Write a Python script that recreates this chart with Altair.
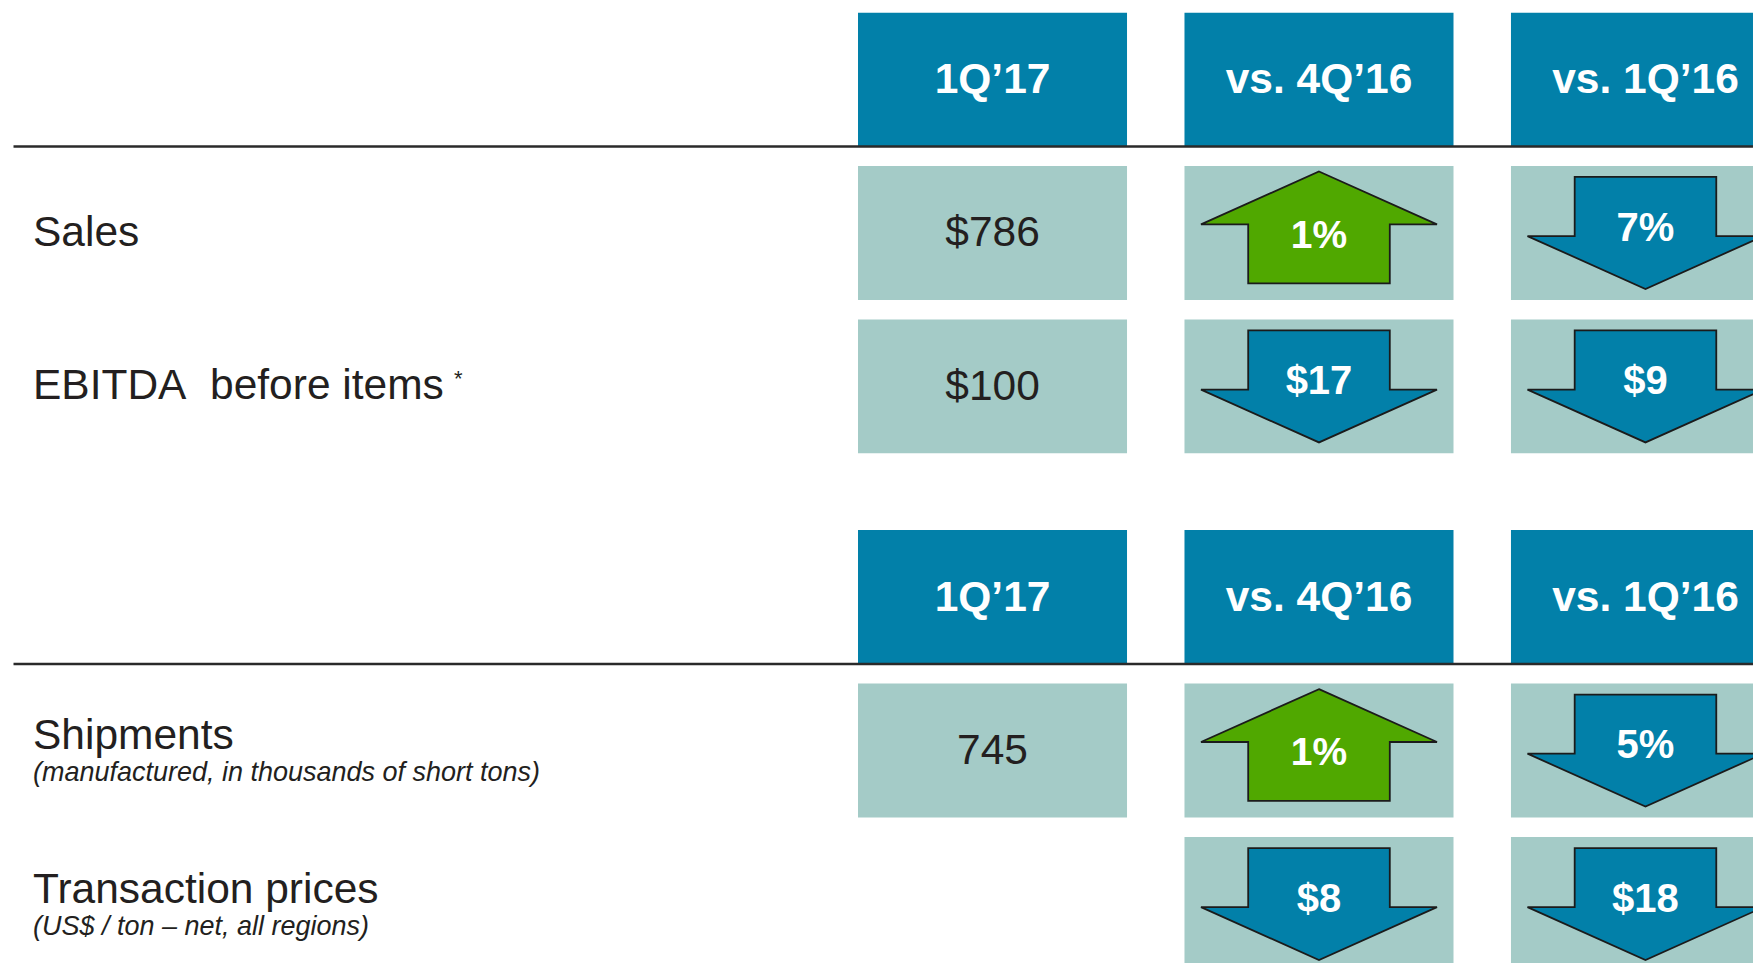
import altair as alt
import pandas as pd

# ---------------- data ----------------
COLUMNS = ["1Q’17", "vs. 4Q’16", "vs. 1Q’16"]
ROW_LABELS = ["Sales", "EBITDA\u00a0 before items", "Shipments", "Transaction prices"]
ROW_NOTES = ["", "*", "", ""]
ROW_SUBTITLES = ["", "", "(manufactured, in thousands of short tons)", "(US$ / ton – net, all regions)"]
ROW_SECTION = [1, 1, 2, 2]
CURRENT_VALUES = ["$786", "$100", "745", ""]
VS_4Q16_DIRECTION = ["up", "down", "up", "down"]
VS_4Q16_CHANGE = ["1%", "$17", "1%", "$8"]
VS_1Q16_DIRECTION = ["down", "down", "down", "down"]
VS_1Q16_CHANGE = ["7%", "$9", "5%", "$18"]

# ---------------- styles ----------------
SANS = "Liberation Sans, Arial, Helvetica, sans-serif"
BLUE = "#0280a9"
LIGHT = "#a4cbc7"
GREEN = "#50a800"
DARK = "#231f20"
UP_PATH = "M 0 -0.52 L 1 -0.072 L 0.6 -0.072 L 0.6 0.427 L -0.6 0.427 L -0.6 -0.072 L -1 -0.072 Z"
DOWN_PATH = "M -0.6 -0.474 L 0.6 -0.474 L 0.6 0.027 L 1 0.027 L 0 0.475 L -1 0.027 L -0.6 0.027 Z"

W = 1745
H = 441


def section_chart(sec, visible_height):
    idx = [i for i, s in enumerate(ROW_SECTION) if s == sec]
    ydomain = ["header"] + [ROW_LABELS[i] for i in idx]

    header_df = pd.DataFrame({"col": COLUMNS, "row": ["header"] * len(COLUMNS)})
    label_df = pd.DataFrame({
        "row": [ROW_LABELS[i] for i in idx],
        "sub": [ROW_SUBTITLES[i] for i in idx],
        "note": [ROW_NOTES[i] for i in idx],
    })
    value_rows = [{"col": COLUMNS[0], "row": ROW_LABELS[i], "text": CURRENT_VALUES[i]}
                  for i in idx if CURRENT_VALUES[i] != ""]
    arrow_rows = []
    for i in idx:
        arrow_rows.append({"col": COLUMNS[1], "row": ROW_LABELS[i],
                           "dir": VS_4Q16_DIRECTION[i], "text": VS_4Q16_CHANGE[i]})
        arrow_rows.append({"col": COLUMNS[2], "row": ROW_LABELS[i],
                           "dir": VS_1Q16_DIRECTION[i], "text": VS_1Q16_CHANGE[i]})
    value_df = pd.DataFrame(value_rows)
    arrow_df = pd.DataFrame(arrow_rows)
    cell_df = pd.concat([value_df[["col", "row"]], arrow_df[["col", "row"]]], ignore_index=True)

    xs = alt.Scale(domain=COLUMNS, range=[850, 1772], paddingInner=0.176, paddingOuter=0)
    ys = alt.Scale(domain=ydomain, range=[0, H], paddingInner=0.127, paddingOuter=0)
    X = alt.X("col:N", scale=xs, axis=None)
    Y = alt.Y("row:N", scale=ys, axis=None)

    header_rect = alt.Chart(header_df).mark_rect(color=BLUE, clip=True).encode(x=X, y=Y)
    header_text = alt.Chart(header_df).mark_text(
        font=SANS, fontSize=42.5, fontWeight="bold", color="white", baseline="alphabetic", dy=14, clip=True
    ).encode(x=X, y=Y, text="col:N")
    rule = alt.Chart(header_df.head(1)).mark_rule(color="#2a2a2a", strokeWidth=2.5, clip=True).encode(
        y=alt.Y("row:N", scale=ys, axis=None, bandPosition=1),
        x=alt.value(5.5), x2=alt.value(W),
    )
    cell_rect = alt.Chart(cell_df).mark_rect(color=LIGHT, clip=True).encode(x=X, y=Y)
    value_text = alt.Chart(value_df).mark_text(
        font=SANS, fontSize=42.5, color=DARK, baseline="alphabetic", dy=13.5, clip=True
    ).encode(x=X, y=Y, text="text:N")
    arrows = alt.Chart(arrow_df).mark_point(
        filled=True, size=55696, opacity=1, stroke="#1b1b1b", strokeWidth=1.8, clip=True
    ).encode(
        x=X, y=Y,
        shape=alt.Shape("dir:N", scale=alt.Scale(domain=["up", "down"], range=[UP_PATH, DOWN_PATH]), legend=None),
        color=alt.Color("dir:N", scale=alt.Scale(domain=["up", "down"], range=[GREEN, BLUE]), legend=None),
    )
    up_text = alt.Chart(arrow_df).transform_filter("datum.dir == 'up'").mark_text(
        font=SANS, fontSize=39, fontWeight="bold", color="white", baseline="alphabetic", dy=15, clip=True
    ).encode(x=X, y=Y, text="text:N")
    down_text = alt.Chart(arrow_df).transform_filter("datum.dir == 'down'").mark_text(
        font=SANS, fontSize=40, fontWeight="bold", color="white", baseline="alphabetic", dy=8, clip=True
    ).encode(x=X, y=Y, text="text:N")

    label_plain = alt.Chart(label_df).transform_filter("datum.sub == ''").mark_text(
        font=SANS, fontSize=42.5, color=DARK, align="left", baseline="alphabetic", dy=13, clip=True
    ).encode(x=alt.value(25), y=Y, text="row:N")
    label_sub_main = alt.Chart(label_df).transform_filter("datum.sub != ''").mark_text(
        font=SANS, fontSize=42.5, color=DARK, align="left", baseline="alphabetic", dy=-1, clip=True
    ).encode(x=alt.value(25), y=Y, text="row:N")
    label_sub = alt.Chart(label_df).transform_filter("datum.sub != ''").mark_text(
        font=SANS, fontSize=27, fontStyle="italic", color=DARK, align="left", baseline="alphabetic", dy=31, clip=True
    ).encode(x=alt.value(25), y=Y, text="sub:N")
    label_note = alt.Chart(label_df).transform_filter("datum.note != ''").mark_text(
        font=SANS, fontSize=22, color=DARK, align="left", baseline="top", dy=-17, clip=True
    ).encode(x=alt.value(446), y=Y, text="note:N")

    return alt.layer(
        header_rect, cell_rect, rule, header_text, value_text, arrows, up_text, down_text,
        label_plain, label_sub_main, label_sub, label_note,
    ).properties(width=W, height=visible_height)


chart = alt.vconcat(
    section_chart(1, H), section_chart(2, H - 8), spacing=76.6, bounds="flush"
).properties(
    padding={"left": 0, "top": 4.4, "right": 0, "bottom": 0}, background="white"
).configure_view(stroke=None)

chart.save("out.html", embed_options={"renderer": "svg", "actions": False})
